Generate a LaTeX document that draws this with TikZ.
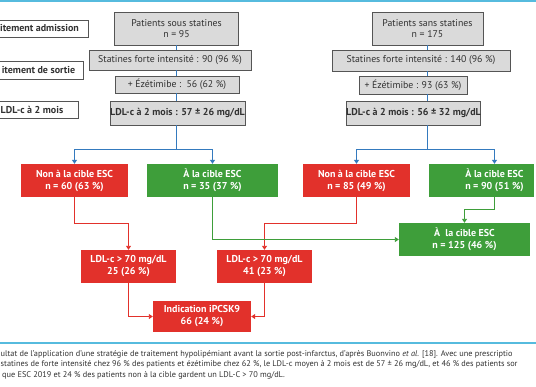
\documentclass[tikz,border=0pt]{standalone}
\usepackage{fontspec}
\setmainfont{PT Sans}
\usetikzlibrary{arrows.meta}

\definecolor{escred}{RGB}{226,49,43}
\definecolor{escgreen}{RGB}{62,158,58}
\definecolor{boxgray}{RGB}{218,218,218}
\definecolor{boxline}{RGB}{85,85,85}
\definecolor{flowblue}{RGB}{52,122,190}
\definecolor{rulecyan}{RGB}{86,187,222}
\definecolor{textdark}{RGB}{50,50,50}

\begin{document}
\begin{tikzpicture}[x=1pt, y=-1pt,
    boxfont/.style={font=\fontsize{9}{11}\selectfont},
    graybox/.style={draw=boxline, line width=0.9pt, fill=boxgray, text=textdark, font=\fontsize{9.8}{11}\selectfont, inner sep=0pt, align=center},
    boldgray/.style={graybox, boxfont, font=\bfseries},
    labelbox/.style={draw=boxline, line width=0.9pt, fill=white, text=textdark, boxfont, font=\bfseries, inner sep=0pt},
    redbox/.style={fill=escred, text=white, boxfont, font=\bfseries, inner sep=0pt, align=center},
    greenbox/.style={fill=escgreen, text=white, boxfont, font=\bfseries, inner sep=0pt, align=center},
    blueline/.style={flowblue, line width=1.1pt},
    bluearrow/.style={blueline, -{Triangle[length=4pt,width=5pt]}},
    redarrow/.style={escred, line width=0.9pt, -{Triangle[length=4pt,width=5pt]}},
    greenarrow/.style={escgreen, line width=0.9pt, -{Triangle[length=4pt,width=5pt]}},
    caption/.style={text=textdark, font=\fontsize{8.3}{9}\selectfont, inner sep=0pt, anchor=west}]
    \useasboundingbox (0,0) rectangle (536,386);
    \clip (0,0) rectangle (536,386);

    % Rules
    \draw[rulecyan, line width=1.5pt] (0,1) -- (536,1);
    \draw[rulecyan, line width=1.2pt] (0,343) -- (536,343);

    % Row labels
    \node[labelbox, minimum width=97pt, minimum height=17pt] (adm) at (39.5,28.5) {itement admission};
    \node[labelbox, minimum width=89pt, minimum height=18pt] (sor) at (38.5,70) {itement de sortie};
    \node[labelbox, minimum width=92pt, minimum height=17pt] (ldl) at (32,109.5) {LDL-c à 2 mois};

    % Patients sous statines
    \node[graybox, minimum width=124pt, minimum height=33pt] (pss) at (176.5,28.5) {Patients sous statines\\n = 95};
    \node[graybox, minimum width=162pt, minimum height=20pt] (sfi1) at (170,60) {Statines forte intensité : 90 (96~\%)};
    \node[graybox, minimum width=124pt, minimum height=17pt] (eze1) at (177,84.5) {+ Ézétimibe :\ \ 56 (62~\%)};
    \node[boldgray, minimum width=135pt, minimum height=24pt] (ldl1) at (177.5,113) {LDL-c à 2 mois : 57 ± 26 mg/dL};

    % Patients sans statines
    \node[graybox, minimum width=111pt, minimum height=33pt] (pns) at (427.5,28.5) {Patients sans statines\\n = 175};
    \node[graybox, minimum width=178pt, minimum height=21pt] (sfi2) at (421,60.5) {Statines forte intensité : 140 (96~\%)};
    \node[graybox, minimum width=108pt, minimum height=18pt] (eze2) at (413,85) {+ Ézétimibe : 93 (63~\%)};
    \node[boldgray, minimum width=133pt, minimum height=24pt] (ldl2) at (413.5,113) {LDL-c à 2 mois : 56 ± 32 mg/dL};

    % Cible ESC
    \node[redbox, minimum width=107pt, minimum height=33pt] (nac1) at (74.5,180.5) {Non à la cible ESC\\n = 60 (63~\%)};
    \node[greenbox, minimum width=131pt, minimum height=33pt] (ac1) at (212.5,180.5) {À la cible ESC\\n = 35 (37~\%)};
    \node[redbox, minimum width=107pt, minimum height=33pt] (nac2) at (356.5,180.5) {Non à la cible ESC\\n = 85 (49~\%)};
    \node[greenbox, minimum width=105pt, minimum height=33pt] (ac2) at (481.5,180.5) {\hspace*{26pt}À la cible ESC\\\hspace*{26pt}n = 90 (51~\%)};
    \node[greenbox, minimum width=131pt, minimum height=33pt] (ac3) at (464.5,239.5) {À\ \ la cible ESC\\n = 125 (46~\%)};

    % LDL-c > 70
    \node[redbox, minimum width=95pt, minimum height=33pt] (ldlA) at (128.5,266.5) {LDL-c > 70 mg/dL\\25 (26~\%)};
    \node[redbox, minimum width=95pt, minimum height=33pt] (ldlB) at (264.5,266.5) {LDL-c > 70 mg/dL\\41 (23~\%)};
    \node[redbox, minimum width=98pt, minimum height=31pt] (ipc) at (202,316.5) {Indication iPCSK9\\66 (24~\%)};

    % Columns
    \foreach \a/\b/\c in {pss/sfi1/pss, sfi1/eze1/pss, eze1/ldl1/pss, pns/sfi2/pns, sfi2/eze2/pns, eze2/ldl2/pns}
        \draw[blueline] (\c.south |- \a.south) -- (\c.south |- \b.north);
    \draw[blueline] (pss.south |- ldl1.south) -- ++(0,24) coordinate (splitL);
    \draw[bluearrow] (splitL) -| (nac1.north);
    \draw[bluearrow] (splitL) -| (ac1.north);
    \draw[blueline] (pns.south |- ldl2.south) -- ++(0,24) coordinate (splitR);
    \draw[bluearrow] (splitR) -| (nac2.north);
    \draw[bluearrow] (splitR) -| ([xshift=13pt]ac2.north);

    % Outcomes
    \draw[redarrow] (nac1.south) -- ++(0,26) -| (ldlA.north);
    \draw[redarrow] (nac2.south) -- ++(0,26) -| (ldlB.north);
    \draw[greenarrow] (ac1.south) |- (ac3.west);
    \draw[greenarrow] ([xshift=13pt]ac2.south) -- ++(0,12) -| (ac3.north);
    \draw[redarrow] (ldlA.south) |- (ipc.west);
    \draw[redarrow] (ldlB.south) |- (ipc.east);

    % Caption
    \node[caption] (capA) at (0.5,354) {ultat de l’application d’une stratégie de traitement hypolipémiant avant la sortie post-infarctus, d’après Buonvino \textit{et al.} [18]. Avec une prescriptio};
    \node[caption] (capB) at (0.5,364.5) {statines de forte intensité chez 96~\% des patients et ézétimibe chez 62~\%, le LDL-c moyen à 2 mois est de 57 ± 26 mg/dL, et 46~\% des patients sor};
    \node[caption] (capC) at (2,375) {que ESC 2019 et 24~\% des patients non à la cible gardent un LDL-C > 70 mg/dL.};
\end{tikzpicture}
\end{document}
